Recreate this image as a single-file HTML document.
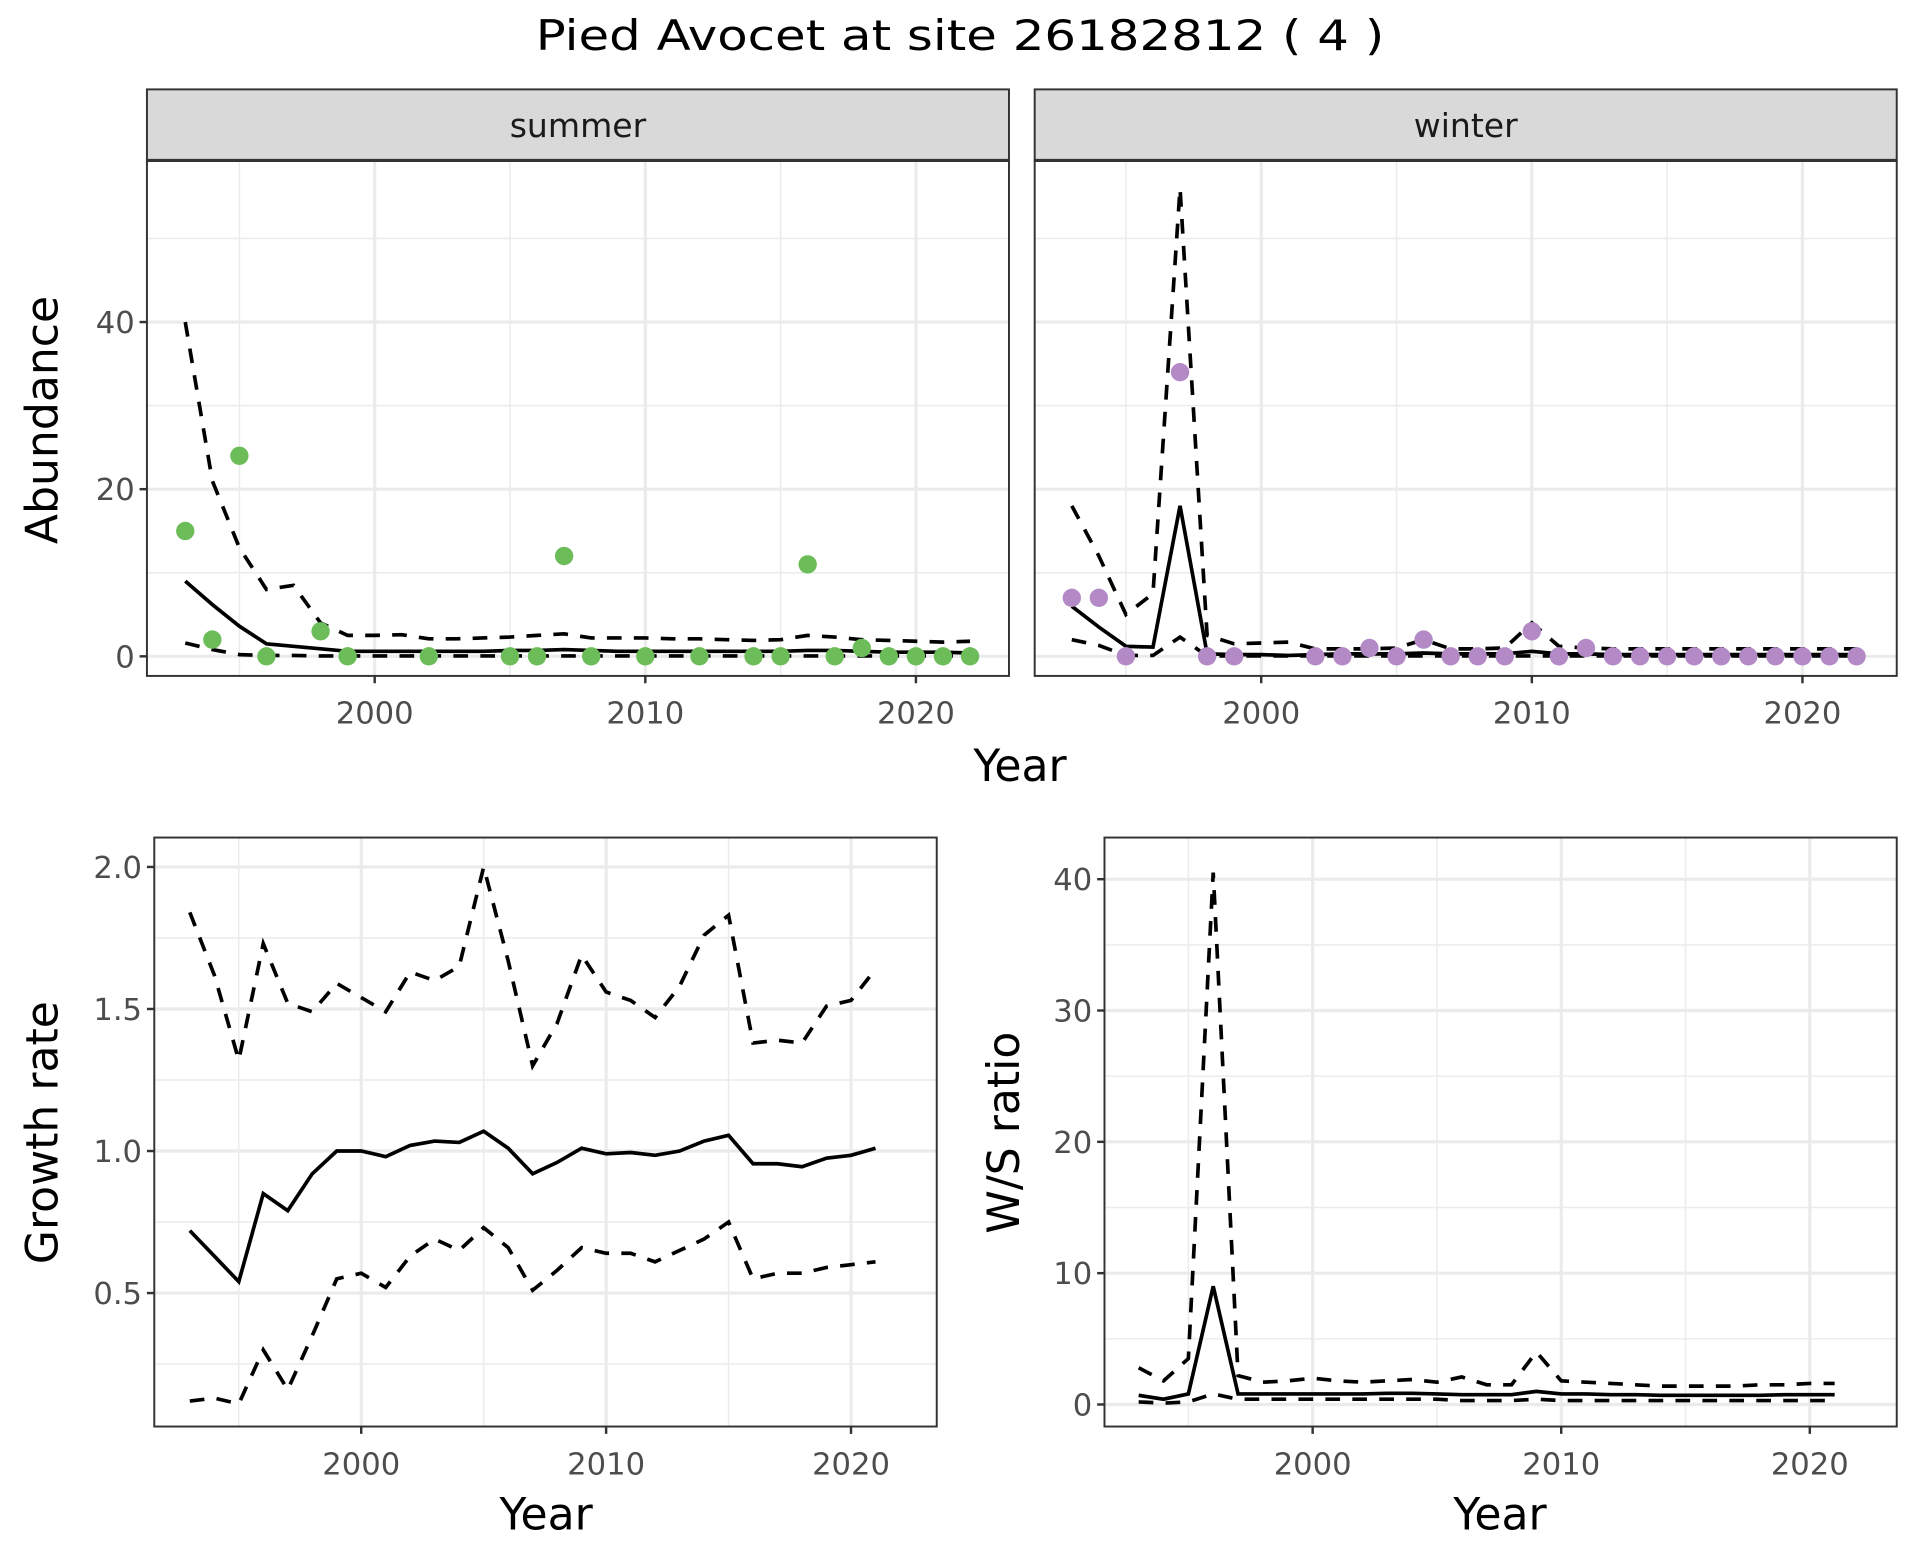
<!DOCTYPE html>
<html><head><meta charset="utf-8">
<style>
html,body{margin:0;padding:0;background:#fff;}
svg{display:block;font-family:"DejaVu Sans","Liberation Sans",sans-serif;}
</style></head>
<body>
<svg id="chart" width="1920" height="1560" viewBox="0 0 1568 1274" xmlns="http://www.w3.org/2000/svg">
<rect width="1568" height="1274" fill="#fff"/>
<text x="784" y="41" font-size="34" text-anchor="middle" fill="#000" textLength="693" lengthAdjust="spacingAndGlyphs">Pied Avocet at site 26182812 ( 4 )</text>
<g id="g"></g>
</svg>
<script>
const years = [1993,1994,1995,1996,1997,1998,1999,2000,2001,2002,2003,2004,2005,2006,2007,2008,2009,2010,2011,2012,2013,2014,2015,2016,2017,2018,2019,2020,2021,2022];
const summerPtYears = [1993,1994,1995,1996,1998,1999,2002,2005,2006,2007,2008,2010,2012,2014,2015,2016,2017,2018,2019,2020,2021,2022];
const summerPtVals = [15,2,24,0,3,0,0,0,0,12,0,0,0,0,0,11,0,1,0,0,0,0];
const summerMean = [9,6.2,3.6,1.5,1.2,0.9,0.6,0.6,0.6,0.6,0.6,0.6,0.7,0.7,0.8,0.7,0.6,0.6,0.6,0.6,0.6,0.6,0.6,0.7,0.7,0.6,0.5,0.5,0.5,0.4];
const summerUpper = [40,21,13,8,8.5,4,2.5,2.5,2.6,2.1,2.1,2.2,2.3,2.5,2.7,2.2,2.2,2.2,2.1,2.1,2.0,1.9,2.0,2.5,2.3,2.0,1.9,1.8,1.7,1.8];
const summerLower = [1.6,0.8,0.2,0.1,0.1,0.05,0.05,0.05,0.05,0.05,0.05,0.05,0.05,0.05,0.05,0.05,0.05,0.05,0.05,0.05,0.05,0.05,0.05,0.05,0.05,0.05,0.05,0.05,0.05,0.05];
const winterPtYears = [1993,1994,1995,1997,1998,1999,2002,2003,2004,2005,2006,2007,2008,2009,2010,2011,2012,2013,2014,2015,2016,2017,2018,2019,2020,2021,2022];
const winterPtVals = [7,7,0,34,0,0,0,0,1,0,2,0,0,0,3,0,1,0,0,0,0,0,0,0,0,0,0];
const winterMean = [6,3.5,1.2,1.1,18,0.3,0.2,0.2,0.1,0.2,0.3,0.3,0.3,0.4,0.3,0.3,0.3,0.6,0.3,0.3,0.2,0.2,0.2,0.2,0.2,0.2,0.2,0.2,0.2,0.2];
const winterUpper = [18,12,5,7.5,56,2.5,1.5,1.6,1.7,0.9,0.9,0.9,1.0,2.0,0.9,0.9,1.0,4.0,1.2,1.0,0.9,0.9,0.9,0.9,0.9,0.9,0.9,0.9,0.9,0.9];
const winterLower = [2,1.3,0.1,0.1,2.3,0.05,0.05,0.05,0.05,0.05,0.05,0.05,0.05,0.05,0.05,0.05,0.05,0.05,0.05,0.05,0.05,0.05,0.05,0.05,0.05,0.05,0.05,0.05,0.05,0.05];
const rateYears = [1993,1994,1995,1996,1997,1998,1999,2000,2001,2002,2003,2004,2005,2006,2007,2008,2009,2010,2011,2012,2013,2014,2015,2016,2017,2018,2019,2020,2021];
const growthMean = [0.72,0.63,0.54,0.85,0.79,0.92,1.0,1.0,0.98,1.02,1.035,1.03,1.07,1.01,0.92,0.96,1.01,0.99,0.995,0.985,1.0,1.035,1.055,0.955,0.955,0.945,0.975,0.985,1.01];
const growthUpper = [1.84,1.62,1.32,1.73,1.52,1.49,1.59,1.54,1.49,1.63,1.6,1.65,2.0,1.67,1.3,1.45,1.69,1.56,1.53,1.47,1.58,1.76,1.83,1.38,1.39,1.38,1.51,1.53,1.64];
const growthLower = [0.12,0.13,0.11,0.3,0.16,0.35,0.55,0.57,0.52,0.63,0.69,0.65,0.73,0.66,0.51,0.58,0.66,0.64,0.64,0.61,0.65,0.69,0.75,0.55,0.57,0.57,0.59,0.6,0.61];
const ratioMean = [0.7,0.4,0.8,9,0.8,0.8,0.8,0.8,0.8,0.8,0.85,0.85,0.8,0.75,0.75,0.75,1.0,0.8,0.8,0.75,0.75,0.7,0.7,0.7,0.7,0.7,0.75,0.75,0.75];
const ratioUpper = [2.8,1.8,3.5,40.5,2.2,1.7,1.8,2.0,1.8,1.7,1.8,1.9,1.7,2.1,1.5,1.5,4.0,1.8,1.7,1.6,1.5,1.4,1.4,1.4,1.4,1.5,1.5,1.6,1.6];
const ratioLower = [0.2,0.1,0.2,0.8,0.4,0.4,0.4,0.4,0.4,0.4,0.4,0.4,0.4,0.3,0.3,0.3,0.4,0.3,0.3,0.3,0.3,0.3,0.3,0.3,0.3,0.3,0.3,0.3,0.3];
const xTicks = [2000,2010,2020];
const abTicks = [0,20,40];
const grTicks = [0.5,1.0,1.5,2.0];
const wsTicks = [0,10,20,30,40];

const NS="http://www.w3.org/2000/svg";
const G=document.getElementById('g');
function mk(tag,attrs,parent){const e=document.createElementNS(NS,tag);for(const k in attrs)e.setAttribute(k,attrs[k]);(parent||G).appendChild(e);return e;}
function lin(d0,d1,r0,r1){return v=>r0+(v-d0)*(r1-r0)/(d1-d0);}
const TICK_FS=25, TITLE_FS=36;

function panel(o){
  const {x0,x1,y0,y1,sx,sy,yMajor,yMinor,xMinor,name}=o;
  const g=mk('g',{});
  
  
  mk('rect',{x:x0,y:y0,width:x1-x0,height:y1-y0,fill:'#fff'},g);
  yMinor.forEach(v=>mk('line',{x1:x0,x2:x1,y1:sy(v),y2:sy(v),stroke:'#ebebeb','stroke-width':1.2},g));
  xMinor.forEach(v=>mk('line',{x1:sx(v),x2:sx(v),y1:y0,y2:y1,stroke:'#ebebeb','stroke-width':1.2},g));
  yMajor.forEach(v=>mk('line',{x1:x0,x2:x1,y1:sy(v),y2:sy(v),stroke:'#ebebeb','stroke-width':2.6},g));
  xTicks.forEach(v=>mk('line',{x1:sx(v),x2:sx(v),y1:y0,y2:y1,stroke:'#ebebeb','stroke-width':2.6},g));
  return g;
}
function frame(g,o){mk('rect',{x:o.x0,y:o.y0,width:o.x1-o.x0,height:o.y1-o.y0,fill:'none',stroke:'#333','stroke-width':1.6},g);}
function xAxis(o){
  xTicks.forEach(v=>{
    mk('line',{x1:o.sx(v),x2:o.sx(v),y1:o.y1,y2:o.y1+6,stroke:'#333','stroke-width':2});
    const t=mk('text',{x:o.sx(v),y:o.y1+39,'font-size':TICK_FS,'text-anchor':'middle',fill:'#4d4d4d'});
    
    
    t.textContent=v;
  });
}
function yAxis(o,ticks,fmt){
  ticks.forEach(v=>{
    mk('line',{x1:o.x0-6,x2:o.x0,y1:o.sy(v),y2:o.sy(v),stroke:'#333','stroke-width':2});
    const t=mk('text',{x:o.x0-10,y:o.sy(v)+9,'font-size':TICK_FS,'text-anchor':'end',fill:'#4d4d4d'});
    
    
    t.textContent=fmt(v);
  });
}
function line(g,o,xs,ys,dash,name){
  const d=xs.map((x,i)=>(i?'L':'M')+o.sx(x).toFixed(1)+','+o.sy(ys[i]).toFixed(1)).join('');
  const p=mk('path',{d:d,fill:'none',stroke:'#000','stroke-width':3,'stroke-dasharray':dash?'12,10':'none'},g);
  
  
}
function pts(g,o,xs,ys,col,name){
  xs.forEach((x,i)=>{
    const c=mk('circle',{cx:o.sx(x),cy:o.sy(ys[i]),r:7.5,fill:col},g);
    
    
  });
}
function label(txt,x,y,rot,size,name){
  const t=mk('text',{x:x,y:y,'font-size':size,'text-anchor':'middle',fill:'#000',transform:rot?`rotate(-90 ${x} ${y})`:''});
  
  
  t.textContent=txt;
}
function strip(x0,x1,txt,name){
  const r=mk('rect',{x:x0,y:73,width:x1-x0,height:58,fill:'#d9d9d9',stroke:'#333','stroke-width':1.6});
  
  
  mk('line',{x1:x0,x2:x1,y1:131,y2:131,stroke:'#333','stroke-width':2.5});
  const t=mk('text',{x:(x0+x1)/2,y:112,'font-size':27,'text-anchor':'middle',fill:'#1a1a1a'});
  
  
  t.textContent=txt;
}

const abY=lin(0,40,536,263);
const abMinor=[10,30,50];
const xm=[1995,2005,2015];
const S={x0:120,x1:824,y0:131,y1:552,sx:lin(2000,2020,306,748),sy:abY,yMajor:abTicks,yMinor:abMinor,xMinor:xm,name:'summer-panel'};
let g=panel(S);
line(g,S,years,summerUpper,true,'summer-upper-ci');
line(g,S,years,summerLower,true,'summer-lower-ci');
line(g,S,years,summerMean,false,'summer-mean-line');
pts(g,S,summerPtYears,summerPtVals,'#6cbd59','summer-count-point');
frame(g,S);xAxis(S);yAxis(S,abTicks,v=>v);
strip(120,824,'summer','summer-strip');
const W={x0:845,x1:1549,y0:131,y1:552,sx:lin(2000,2020,1030,1472),sy:abY,yMajor:abTicks,yMinor:abMinor,xMinor:xm,name:'winter-panel'};
g=panel(W);
line(g,W,years,winterUpper,true,'winter-upper-ci');
line(g,W,years,winterLower,true,'winter-lower-ci');
line(g,W,years,winterMean,false,'winter-mean-line');
pts(g,W,winterPtYears,winterPtVals,'#b38ac6','winter-count-point');
frame(g,W);xAxis(W);
strip(845,1549,'winter','winter-strip');
label('Year',833,638,false,TITLE_FS,'top-x-axis-title');
label('Abundance',47,343,true,TITLE_FS,'abundance-axis-title');
const R={x0:126,x1:765,y0:684,y1:1165,sx:lin(2000,2020,295,695),sy:lin(0.5,2.0,1056,708),yMajor:grTicks,yMinor:[0.25,0.75,1.25,1.75],xMinor:xm,name:'growth-rate-panel'};
g=panel(R);
line(g,R,rateYears,growthUpper,true,'growth-upper-ci');
line(g,R,rateYears,growthLower,true,'growth-lower-ci');
line(g,R,rateYears,growthMean,false,'growth-mean-line');
frame(g,R);xAxis(R);yAxis(R,grTicks,v=>v.toFixed(1));
label('Year',446,1249,false,TITLE_FS,'growth-x-axis-title');
label('Growth rate',47,925,true,TITLE_FS,'growth-rate-axis-title');
const Q={x0:902,x1:1549,y0:684,y1:1165,sx:lin(2000,2020,1072,1478),sy:lin(0,40,1147,718),yMajor:wsTicks,yMinor:[5,15,25,35],xMinor:xm,name:'ws-ratio-panel'};
g=panel(Q);
line(g,Q,rateYears,ratioUpper,true,'ratio-upper-ci');
line(g,Q,rateYears,ratioLower,true,'ratio-lower-ci');
line(g,Q,rateYears,ratioMean,false,'ratio-mean-line');
frame(g,Q);xAxis(Q);yAxis(Q,wsTicks,v=>v);
label('Year',1225,1249,false,TITLE_FS,'ratio-x-axis-title');
label('W/S ratio',832,925,true,TITLE_FS,'ws-ratio-axis-title');
</script>
</body></html>
